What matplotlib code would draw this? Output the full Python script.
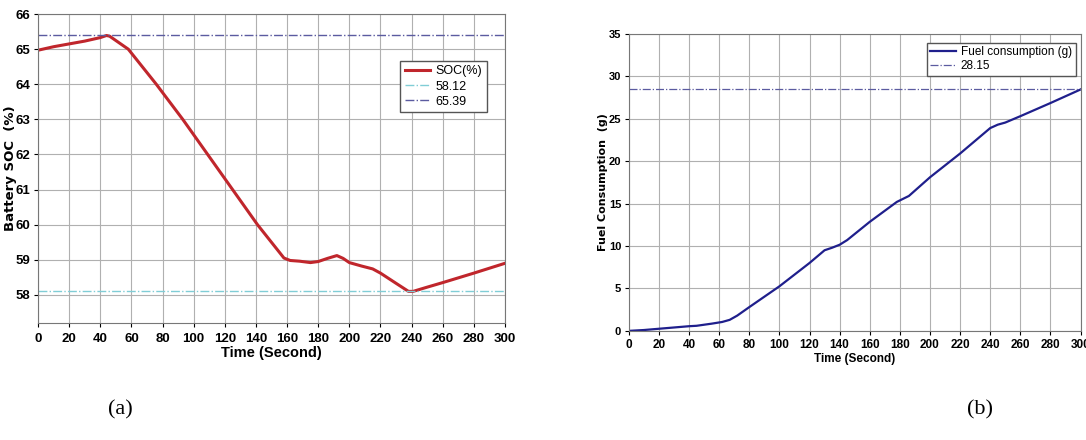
import matplotlib
matplotlib.use('Agg')
from matplotlib import pyplot as plt

# Battery SOC trace (panel a)
soc_time = [0, 10, 20, 30, 40, 44, 46, 58, 76, 93, 109, 125, 141, 158, 162, 168, 175,
            180, 186, 192, 196, 200, 208, 215, 220, 230, 238, 241, 250, 260, 280, 300]
soc_value = [64.97, 65.07, 65.15, 65.23, 65.33, 65.39, 65.37, 65.0, 64.0, 63.0, 62.0, 61.0,
             60.0, 59.05, 58.98, 58.96, 58.92, 58.95, 59.04, 59.12, 59.04, 58.92, 58.82,
             58.74, 58.62, 58.33, 58.1, 58.1, 58.22, 58.35, 58.62, 58.9]
soc_min, soc_max = 58.12, 65.39

# Fuel consumption trace (panel b)
fuel_time = [0, 10, 20, 30, 40, 45, 55, 62, 67, 72, 80, 100, 120, 130, 135, 140, 145,
             160, 178, 186, 200, 220, 240, 245, 250, 260, 280, 300]
fuel_value = [0.0, 0.1, 0.25, 0.4, 0.55, 0.6, 0.85, 1.05, 1.3, 1.8, 2.8, 5.25, 8.0, 9.5,
              9.8, 10.15, 10.7, 12.85, 15.2, 15.9, 18.1, 20.9, 23.9, 24.3, 24.55, 25.3,
              26.85, 28.45]
fuel_level = 28.45
fuel_label = '28.15'

time_ticks = list(range(0, 301, 20))

tick_font = 'Liberation Sans'

fig = plt.figure(figsize=(10.86, 4.4), dpi=100)

# Panel (a)
ax1 = fig.add_axes([0.035, 0.266, 0.430, 0.702])
ax1.plot(soc_time, soc_value, color='#c0262c', linewidth=2.2, label='SOC(%)')
ax1.axhline(soc_min, color='#80cdd6', linestyle='-.', linewidth=1.0, label=f'{soc_min:.2f}')
ax1.axhline(soc_max, color='#5b5ba0', linestyle='-.', linewidth=1.0, label=f'{soc_max:.2f}')
ax1.set_xlim(0, 300)
ax1.set_ylim(57.2, 66)
ax1.set_xticks(time_ticks)
ax1.set_yticks(range(58, 67))
ax1.grid(color='#b0b0b0', linewidth=0.8)
ax1.tick_params(length=3, labelsize=9.5, pad=2.5)
ax1.tick_params(axis='x', pad=4)
for lab in ax1.get_xticklabels() + ax1.get_yticklabels():
    lab.set_fontweight('bold')
    lab.set_family(tick_font)
ax1.set_xlabel('Time (Second)', fontsize=10.5, fontweight='bold', labelpad=1, family=tick_font)
ax1.set_ylabel('Battery SOC  (%)', fontsize=9.5, fontweight='bold')
ax1.yaxis.set_label_coords(-0.046, 0.5)
ax1.legend(loc='upper right', bbox_to_anchor=(0.961, 0.848), borderaxespad=0,
           frameon=True, fancybox=False, edgecolor='#555555',
           handlelength=2.0, handletextpad=0.5, borderpad=0.35, labelspacing=0.25,
           framealpha=1, prop={'family': tick_font, 'size': 9})
for sp in ax1.spines.values():
    sp.set_color('#777777')

# Panel (b)
ax2 = fig.add_axes([0.579, 0.248, 0.416, 0.675])
ax2.plot(fuel_time, fuel_value, color='#1f1f8c', linewidth=1.6, label='Fuel consumption (g)')
ax2.axhline(fuel_level, color='#5b5ba0', linestyle='-.', linewidth=0.9, label=fuel_label)
ax2.set_xlim(0, 300)
ax2.set_ylim(0, 35)
ax2.set_xticks(time_ticks)
ax2.set_yticks(range(0, 36, 5))
ax2.grid(color='#b0b0b0', linewidth=0.8)
ax2.tick_params(length=3, labelsize=8.5, pad=3)
ax2.tick_params(axis='y', labelsize=8, pad=2.5)
for lab in ax2.get_xticklabels() + ax2.get_yticklabels():
    lab.set_fontweight('bold')
    lab.set_family(tick_font)
ax2.set_xlabel('Time (Second)', fontsize=8.5, fontweight='bold', labelpad=1, family=tick_font)
ax2.set_ylabel('Fuel Consumption  (g)', fontsize=8, fontweight='bold')
ax2.yaxis.set_label_coords(-0.047, 0.5)
ax2.legend(loc='upper right', bbox_to_anchor=(0.989, 0.97), borderaxespad=0,
           frameon=True, fancybox=False, edgecolor='#555555',
           handlelength=2.2, handletextpad=0.4, borderpad=0.3, labelspacing=0.15,
           framealpha=1, prop={'family': tick_font, 'size': 8.5})
for sp in ax2.spines.values():
    sp.set_color('#777777')

# Captions
fig.text(120 / 1086, 1 - 410 / 440, '(a)', fontsize=16, family='Liberation Serif',
         ha='center', va='center')
fig.text(980 / 1086, 1 - 410 / 440, '(b)', fontsize=16, family='Liberation Serif',
         ha='center', va='center')

fig.savefig('out.png', dpi=100)
